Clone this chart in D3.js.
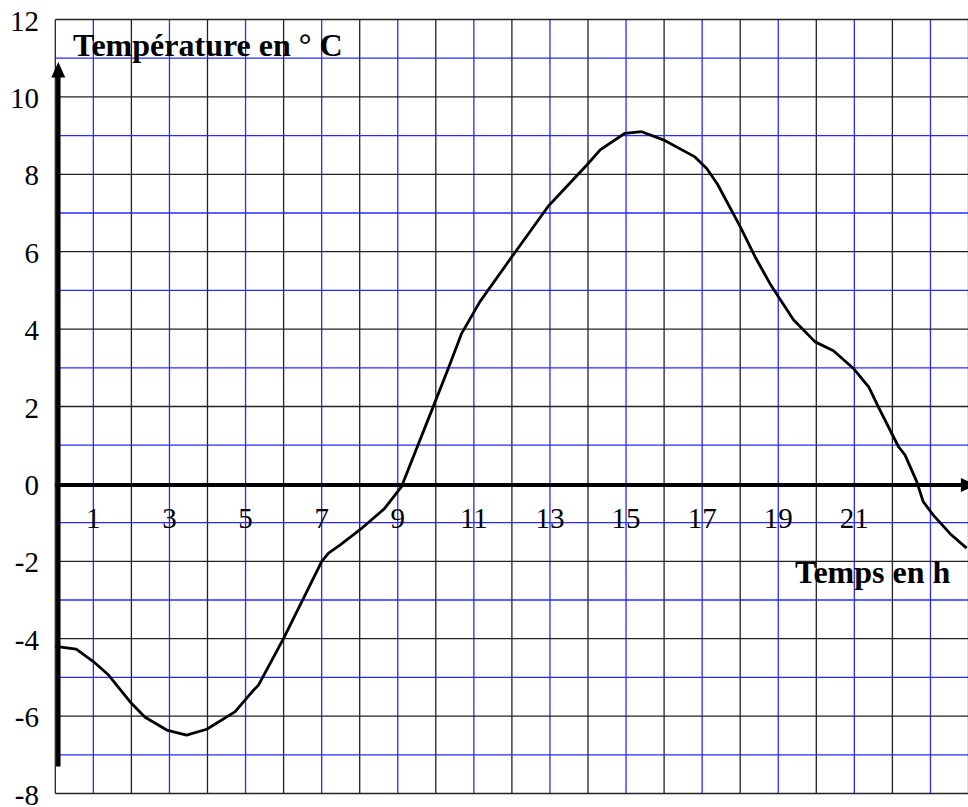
<!DOCTYPE html>
<html>
<head>
<meta charset="utf-8">
<script src="https://cdn.jsdelivr.net/npm/d3@7"></script>
<style>
  body { margin: 0; background: #fff; }
  svg { display: block; }
</style>
</head>
<body>
<div id="chart"></div>
<script>
const width = 968;
const height = 807;

// readings taken off the curve (hour, temperature in °C)
const hours = [0, 0.55, 1.0, 1.4, 2.0, 2.36, 2.93, 3.45, 3.98, 4.72, 5.2, 5.34, 6.0, 7.0, 7.18, 7.48,
  8.0, 8.65, 9.1, 9.93, 10.33, 10.68, 11.16, 12.0, 12.96, 13.97, 14.32, 14.97, 15.41, 15.98, 16.81,
  17.12, 17.4, 18.0, 18.39, 18.78, 19.0, 19.4, 19.97, 20.45, 20.97, 21.38, 21.65, 22.16, 22.33,
  22.64, 22.81, 23.07, 23.51, 23.95];
const temps = [-4.2, -4.27, -4.59, -4.94, -5.67, -6.03, -6.36, -6.49, -6.34, -5.89, -5.34, -5.2, -3.99,
  -2.01, -1.79, -1.58, -1.19, -0.64, -0.07, 1.99, 2.99, 3.89, 4.71, 5.87, 7.18, 8.24, 8.63, 9.06, 9.1,
  8.89, 8.45, 8.15, 7.75, 6.65, 5.87, 5.18, 4.84, 4.24, 3.67, 3.44, 2.99, 2.5, 1.95, 0.96, 0.75, 0.06,
  -0.46, -0.8, -1.28, -1.66];

const yTickValues = [12, 10, 8, 6, 4, 2, 0, -2, -4, -6, -8];
const xTickValues = [1, 3, 5, 7, 9, 11, 13, 15, 17, 19, 21];
const yTitle = "Température en ° C";
const xTitle = "Temps en h";

const x = d3.scaleLinear().domain([0, 24]).range([55.3, 968.5]);
const y = d3.scaleLinear().domain([-8, 12]).range([793.5, 19.5]);

const svg = d3.select("#chart")
  .append("svg")
  .attr("width", width)
  .attr("height", height);

// grid: black on even units, blue on odd ones
const grid = svg.append("g").attr("class", "grid");

grid.selectAll(".vline")
  .data(d3.range(0, 25))
  .enter().append("line")
  .attr("x1", d => x(d)).attr("x2", d => x(d))
  .attr("y1", y(12)).attr("y2", y(-8))
  .style("stroke", d => d % 2 === 0 ? "#222" : "#2a2aff")
  .style("stroke-width", "1.3px");

grid.selectAll(".hline")
  .data(d3.range(-8, 13))
  .enter().append("line")
  .attr("x1", x(0)).attr("x2", x(24))
  .attr("y1", d => y(d)).attr("y2", d => y(d))
  .style("stroke", d => Math.abs(d) % 2 === 0 ? "#222" : "#2a2aff")
  .style("stroke-width", "1.3px");

// axes with arrows
const yAxisX = x(0) + 3;
svg.append("line")
  .attr("x1", yAxisX).attr("x2", yAxisX)
  .attr("y1", y(-7.3)).attr("y2", y(10.6))
  .style("stroke", "#000").style("stroke-width", "4.5px");
svg.append("path")
  .attr("d", `M${yAxisX},${y(10.9)} L${yAxisX - 7},${y(10.5)} L${yAxisX + 7},${y(10.5)} Z`)
  .style("fill", "#000");

svg.append("line")
  .attr("x1", x(0)).attr("x2", x(23.8))
  .attr("y1", y(0) + 1).attr("y2", y(0) + 1)
  .style("stroke", "#000").style("stroke-width", "4px");
svg.append("path")
  .attr("d", `M${x(24.2)},${y(0) + 1} L${x(23.8)},${y(0) - 6} L${x(23.8)},${y(0) + 8} Z`)
  .style("fill", "#000");

// tick labels
svg.selectAll(".ylab")
  .data(yTickValues)
  .enter().append("text")
  .attr("x", 39)
  .attr("y", d => y(d) + 11)
  .attr("text-anchor", "end")
  .style("font-family", "'Liberation Serif', 'Times New Roman', serif")
  .style("font-size", "29px")
  .style("fill", "#000")
  .text(d => d);

svg.selectAll(".xlab")
  .data(xTickValues)
  .enter().append("text")
  .attr("x", d => x(d))
  .attr("y", 528)
  .attr("text-anchor", "middle")
  .style("font-family", "'Liberation Serif', 'Times New Roman', serif")
  .style("font-size", "29px")
  .style("fill", "#000")
  .text(d => d);

// titles
svg.append("text")
  .attr("x", 73).attr("y", 56)
  .style("font-family", "'Liberation Serif', 'Times New Roman', serif")
  .style("font-size", "32px").style("font-weight", "bold")
  .style("fill", "#000")
  .text(yTitle);

svg.append("text")
  .attr("x", 795).attr("y", 583)
  .style("font-family", "'Liberation Serif', 'Times New Roman', serif")
  .style("font-size", "32px").style("font-weight", "bold")
  .style("fill", "#000")
  .text(xTitle);

// temperature curve
const line = d3.line()
  .x(d => x(d[0]))
  .y(d => y(d[1]));

svg.append("path")
  .datum(d3.zip(hours, temps))
  .attr("d", line)
  .style("fill", "none")
  .style("stroke", "#000")
  .style("stroke-width", "2.8px")
  .style("stroke-linejoin", "round");
</script>
</body>
</html>
